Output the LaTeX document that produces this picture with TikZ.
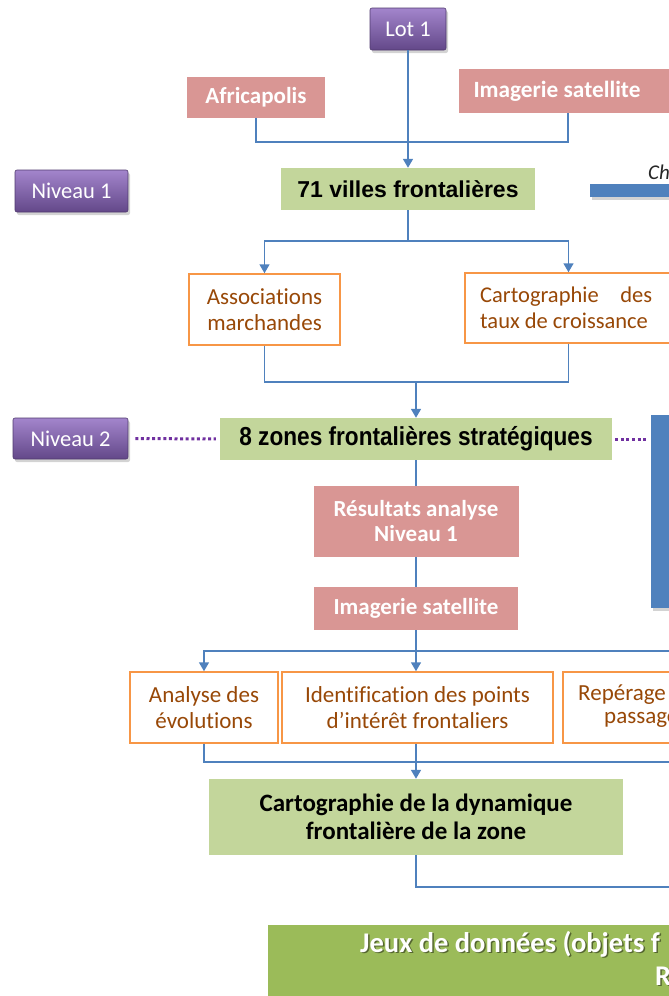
\documentclass[tikz,border=0pt]{standalone}
\usepackage{fontspec}
\setmainfont{Carlito}[Ligatures=NoCommon]
\newfontfamily\arialfont{Liberation Sans}
\newfontfamily\narrowfont{Liberation Sans}[FakeStretch=0.87]
\usetikzlibrary{arrows.meta,shadows,calc}
\definecolor{pinkbox}{HTML}{D99694}
\definecolor{lightgreen}{HTML}{C3D69B}
\definecolor{orangeb}{HTML}{F79646}
\definecolor{browntext}{HTML}{984807}
\definecolor{linkblue}{HTML}{4F81BD}
\definecolor{darkgreen}{HTML}{9BBB59}
\definecolor{purpletop}{HTML}{A385CC}
\definecolor{purplebot}{HTML}{634889}
\definecolor{dotpurple}{HTML}{7030A0}
\tikzset{
  pinkstyle/.style={rectangle, fill=pinkbox, inner sep=0pt, text=white, align=center,
    font=\fontsize{23}{25}\selectfont\bfseries},
  greenstyle/.style={rectangle, fill=lightgreen, inner sep=0pt, text=black, align=center},
  orangestyle/.style={rectangle, draw=orangeb, line width=1.5pt, fill=white, text=browntext,
    align=center, inner sep=0pt, font=\fontsize{23}{26}\selectfont},
  purplebtn/.style={rectangle, rounded corners=2pt, top color=purpletop, bottom color=purplebot,
    draw=purplebot!80!black, line width=0.6pt, text=white, inner sep=0pt,
    font=\fontsize{22.5}{26}\selectfont,
    drop shadow={opacity=0.35, shadow xshift=2pt, shadow yshift=-3pt}},
  bluefill/.style={rectangle, fill=linkblue, inner sep=0pt,
    drop shadow={opacity=0.35, shadow xshift=2pt, shadow yshift=-3pt}},
  link/.style={draw=linkblue, line width=1.6pt},
  arr/.style={link, -{Triangle[width=10pt,length=9pt]}},
  dotline/.style={draw=dotpurple, line width=3pt, dash pattern=on 3pt off 2.6pt},
  plaintext/.style={inner sep=0pt},
}
\begin{document}
\begin{tikzpicture}[x=1pt,y=-1pt]
\useasboundingbox (0,0) rectangle (669,996);
\clip (0,0) rectangle (669,996);

% top row
\node[purplebtn, minimum width=76, minimum height=42] (lot) at (408,29) {Lot 1};
\node[pinkstyle, minimum width=138, minimum height=41] (afr) at (256,97.5) {Africapolis};
\node[pinkstyle, minimum width=218, minimum height=44] (img1) at (568,91) {};
\node[plaintext, text=white, font=\fontsize{23.3}{25}\selectfont\bfseries] (img1t) at (557,91) {Imagerie satellite};

% level 1
\node[greenstyle, minimum width=254, minimum height=42,
  font=\arialfont\fontsize{23}{27}\selectfont\bfseries] (villes) at (408,189) {71 villes frontalières};
\node[purplebtn, minimum width=113, minimum height=42] (niv1) at (71.5,191) {Niveau 1};
\node[bluefill, minimum width=120, minimum height=13] (bar) at (650,190.5) {};
\node[plaintext, anchor=west, text=black!85, font=\fontsize{21}{24}\selectfont\itshape] (ch) at (648,172) {Ch};

\node[orangestyle, minimum width=151, minimum height=71] (assoc) at (264.5,309.5) {Associations\\marchandes};
\node[orangestyle, minimum width=207, minimum height=70] (carto1) at (568.5,308) {};
\node[plaintext, anchor=west, text=browntext, align=left,
  font=\fontsize{22.5}{26}\selectfont] (carto1t) at (480,308) {\hbox to 172pt{Cartographie\hfill des}\\taux de croissance};

% level 2
\node[greenstyle, minimum width=392, minimum height=42,
  font=\narrowfont\fontsize{26}{30}\selectfont\bfseries] (zones) at (416,439) {8 zones frontalières stratégiques};
\node[purplebtn, minimum width=115, minimum height=41] (niv2) at (70.5,438.5) {Niveau 2};
\node[bluefill, minimum width=80, minimum height=193] (bigblue) at (691,511.5) {};

\node[pinkstyle, minimum width=205, minimum height=71] (res) at (416,521.5) {Résultats analyse\\Niveau 1};
\node[pinkstyle, minimum width=204, minimum height=43] (img2) at (416,608.5) {Imagerie satellite};

\node[orangestyle, minimum width=148, minimum height=71] (analyse) at (204,707.5) {Analyse des\\évolutions};
\node[orangestyle, minimum width=271, minimum height=71] (ident) at (417.5,707.5) {Identification des points\\d’intérêt frontaliers};
\node[orangestyle, minimum width=200, minimum height=71] (reper) at (663,707.5) {};
\node[plaintext, anchor=west, text=browntext, font=\fontsize{23}{26}\selectfont] (reper1) at (578,695) {Repérage};
\node[plaintext, anchor=west, text=browntext, font=\fontsize{23}{26}\selectfont] (reper2) at (604,720) {passage};

\node[greenstyle, minimum width=414, minimum height=76,
  font=\fontsize{25}{27.5}\selectfont\bfseries] (dyn) at (416,817) {Cartographie de la dynamique\\frontalière de la zone};

% bottom box
\node[rectangle, fill=darkgreen, draw=white, line width=3pt, inner sep=0pt,
  minimum width=500, minimum height=120, anchor=north west,
  drop shadow={opacity=0.3, shadow xshift=1pt, shadow yshift=-2pt}] (jeux) at (265,922) {};
\node[plaintext, anchor=west, text=black, opacity=0.45, font=\fontsize{28.5}{32}\selectfont\bfseries] (jeuxs) at (361.5,945.5) {Jeux de données (objets f};
\node[plaintext, anchor=west, text=white, font=\fontsize{28.5}{32}\selectfont\bfseries] (jeuxt) at (360,944) {Jeux de données (objets f};
\node[plaintext, anchor=west, text=black, opacity=0.45, font=\fontsize{28.5}{32}\selectfont\bfseries] (rs) at (656.5,977.5) {R};
\node[plaintext, anchor=west, text=white, font=\fontsize{28.5}{32}\selectfont\bfseries] (rt) at (655,976) {R};

% connectors
\coordinate (j1) at (408,142);
\draw[link] (afr.south) |- (j1) -| (img1.south);
\draw[arr] (lot.south) -- (villes.north);

\coordinate (j2) at (408,241);
\draw[link] (villes.south) -- (j2);
\draw[arr] (j2) -| (assoc.north);
\draw[arr] (j2) -| (carto1.north);

\coordinate (j3) at (416,382);
\draw[link] (assoc.south) |- (j3);
\draw[link] (carto1.south) |- (j3);
\draw[arr] (j3) -- (zones.north);

\draw[dotline, shorten <=7pt, shorten >=4pt] (niv2.east) -- (zones.west);
\draw[dotline, shorten <=3pt, shorten >=2pt] (zones.east) -- (zones.east -| bigblue.west);

\draw[link] (zones.south) -- (res.north);
\draw[link] (res.south) -- (img2.north);

\coordinate (j4) at (416,651);
\coordinate (e1) at (720,651);
\draw[link] (img2.south) -- (j4);
\draw[arr] (j4) -| (analyse.north);
\draw[arr] (j4) -- (j4 |- ident.north);
\draw[link] (j4) -- (e1);

\coordinate (j5) at (416,762);
\coordinate (e2) at (720,762);
\draw[link] (analyse.south) |- (j5);
\draw[link] (j5 |- ident.south) -- (j5);
\draw[link] (j5) -- (e2);
\draw[arr] (j5) -- (dyn.north);

\coordinate (j6) at (416,887);
\coordinate (e3) at (720,887);
\draw[link] (dyn.south) -- (j6) -- (e3);
\end{tikzpicture}
\end{document}
